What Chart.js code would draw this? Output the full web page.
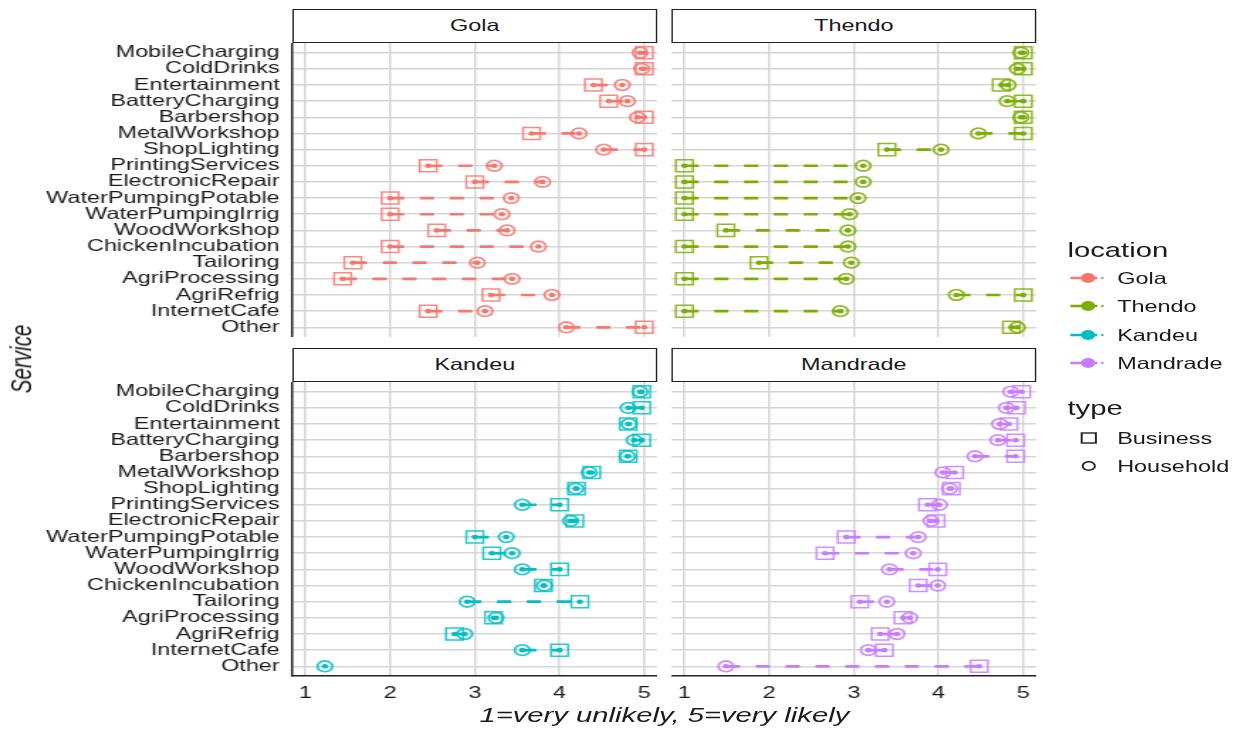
<!DOCTYPE html>
<html>
<head>
<meta charset="utf-8">
<script src="https://cdn.jsdelivr.net/npm/chart.js@4.4.0/dist/chart.umd.min.js"></script>
<style>
  html, body { margin: 0; padding: 0; background: #fff; overflow: hidden; }
  #stage {
    position: absolute; left: 0; top: 0; width: 870px; height: 729px;
    transform: scaleX(1.41954); transform-origin: 0 0;
    font-family: "Liberation Sans", Arial, Helvetica, sans-serif; color: #1a1a1a;
  }
  #stage canvas { position: absolute; }
  .strip {
    position: absolute; box-sizing: border-box; border: 1.5px solid #222;
    background: #fff; font-size: 16.5px; text-align: center;
  }
  .txt { position: absolute; white-space: nowrap; }
</style>
</head>
<body>
<div id="stage"></div>
<script>
// services shown on the y axis, top to bottom
const services = ['MobileCharging', 'ColdDrinks', 'Entertainment', 'BatteryCharging', 'Barbershop',
  'MetalWorkshop', 'ShopLighting', 'PrintingServices', 'ElectronicRepair', 'WaterPumpingPotable',
  'WaterPumpingIrrig', 'WoodWorkshop', 'ChickenIncubation', 'Tailoring', 'AgriProcessing',
  'AgriRefrig', 'InternetCafe', 'Other'];

const locations = ['Gola', 'Thendo', 'Kandeu', 'Mandrade'];
const types = ['Business', 'Household'];
const xTicks = [1, 2, 3, 4, 5];

// mean likelihood per service (1 = very unlikely, 5 = very likely)
const golaBusiness     = [5.00, 5.00, 4.40, 4.58, 5.00, 3.67, 5.00, 2.45, 3.00, 2.00, 2.00, 2.55, 2.00, 1.56, 1.44, 3.19, 2.45, 5.00];
const golaHousehold    = [4.95, 4.97, 4.74, 4.80, 4.92, 4.23, 4.52, 3.23, 3.80, 3.43, 3.32, 3.38, 3.75, 3.03, 3.44, 3.91, 3.12, 4.08];
const thendoBusiness   = [5.00, 5.00, 4.74, 5.00, 5.00, 5.00, 3.39, 1.00, 1.00, 1.00, 1.00, 1.49, 1.00, 1.88, 1.00, 5.00, 1.00, 4.86];
const thendoHousehold  = [4.97, 4.93, 4.82, 4.81, 4.97, 4.47, 4.03, 3.11, 3.11, 3.05, 2.95, 2.93, 2.93, 2.97, 2.91, 4.21, 2.84, 4.93];
const kandeuBusiness   = [4.97, 4.97, 4.81, 4.97, 4.81, 4.38, 4.20, 4.00, 4.18, 3.00, 3.20, 4.00, 3.81, 4.24, 3.22, 2.76, 4.00, null];
const kandeuHousehold  = [4.95, 4.81, 4.82, 4.88, 4.80, 4.35, 4.19, 3.56, 4.13, 3.37, 3.44, 3.56, 3.82, 2.91, 3.25, 2.88, 3.56, 1.23];
const mandradeBusiness = [4.98, 4.92, 4.83, 4.91, 4.91, 4.19, 4.15, 3.87, 3.97, 2.91, 2.66, 3.99, 3.76, 3.07, 3.58, 3.31, 3.36, 4.48];
const mandradeHousehold= [4.85, 4.80, 4.72, 4.70, 4.43, 4.05, 4.13, 4.01, 3.91, 3.76, 3.70, 3.42, 3.99, 3.39, 3.66, 3.51, 3.17, 1.49];

const colours = ['#F8766D', '#7CAE00', '#00BFC4', '#C77CFF'];

Chart.defaults.font.family = '"Liberation Sans", Arial, Helvetica, sans-serif';
Chart.defaults.color = '#1a1a1a';

const stage = document.getElementById('stage');
const GRID = '#d6d6d6';
const AXIS = '#222';
const X_AXIS_H = 45;
const STRIP_H = 34;

// panel boxes (before the horizontal stretch of the stage)
const colX = [[206, 463], [473, 730]];
const rowY = [[43, 337], [382, 676]];

function rgba(hex, a) {
  const n = parseInt(hex.slice(1), 16);
  return `rgba(${n >> 16},${(n >> 8) & 255},${n & 255},${a})`;
}

function addText(text, left, top, css) {
  const el = document.createElement('div');
  el.className = 'txt';
  el.textContent = text;
  el.style.left = left + 'px';
  el.style.top = top + 'px';
  Object.assign(el.style, css || {});
  stage.appendChild(el);
  return el;
}

function buildPanel(name, business, household, colour, col, row) {
  const [x0, x1] = colX[col];
  const [y0, y1] = rowY[row];
  const showY = col === 0;
  const showX = row === 1;

  // facet strip
  const strip = document.createElement('div');
  strip.className = 'strip';
  strip.textContent = name;
  strip.style.left = x0 + 'px';
  strip.style.top = (y0 - STRIP_H) + 'px';
  strip.style.width = (x1 - x0) + 'px';
  strip.style.height = STRIP_H + 'px';
  strip.style.lineHeight = (STRIP_H - 3) + 'px';
  stage.appendChild(strip);

  const canvas = document.createElement('canvas');
  const left = showY ? 0 : x0;
  const width = x1 - left;
  const height = (y1 - y0) + (showX ? X_AXIS_H : 0);
  canvas.width = width;
  canvas.height = height;
  canvas.style.left = left + 'px';
  canvas.style.top = y0 + 'px';
  canvas.style.width = width + 'px';
  canvas.style.height = height + 'px';
  stage.appendChild(canvas);

  const bizPts = [], hhPts = [], segments = [];
  services.forEach((s, i) => {
    const b = business[i], h = household[i];
    if (b != null) bizPts.push({ x: b, y: i });
    if (h != null) hhPts.push({ x: h, y: i });
    if (b != null && h != null) {
      segments.push([{ x: b, y: i }, { x: h, y: i }].sort((p, q) => p.x - q.x));
    }
  });

  const datasets = [
    { data: bizPts.concat(hhPts), pointStyle: 'circle', pointRadius: 2.3,
      backgroundColor: colour, borderWidth: 0 },
    { data: hhPts, pointStyle: 'circle', pointRadius: 5.3,
      borderColor: rgba(colour, 0.85), backgroundColor: 'rgba(0,0,0,0)', borderWidth: 1.8 },
    { data: bizPts, pointStyle: 'rect', pointRadius: 8.5,
      borderColor: rgba(colour, 0.85), backgroundColor: 'rgba(0,0,0,0)', borderWidth: 1.5 }
  ].concat(segments.map(seg => ({
    data: seg, showLine: true, pointRadius: 0,
    borderColor: colour, borderWidth: 2.7, borderDash: [10, 11]
  })));

  new Chart(canvas, {
    type: 'scatter',
    data: { datasets },
    options: {
      responsive: false,
      animation: false,
      events: [],
      layout: { padding: 0, autoPadding: false },
      plugins: { legend: { display: false }, tooltip: { enabled: false } },
      scales: {
        x: {
          type: 'linear', min: 0.847, max: 5.153,
          afterBuildTicks: s => { s.ticks = xTicks.map(v => ({ value: v })); },
          afterFit: s => {
            s.height = showX ? X_AXIS_H : 0;
            s.paddingLeft = 0; s.paddingRight = 0;
          },
          grid: { color: GRID, lineWidth: 1.5, drawTicks: false },
          border: { display: showX, color: AXIS, width: 1.5 },
          ticks: { display: showX, padding: 8, font: { size: 16.5 }, color: '#1a1a1a',
                   maxRotation: 0, callback: v => String(v) }
        },
        y: {
          type: 'linear', reverse: true, min: -0.6, max: services.length - 0.4,
          afterBuildTicks: s => { s.ticks = services.map((_, i) => ({ value: i })); },
          afterFit: s => {
            s.width = showY ? x0 : 0;
            s.paddingTop = 0; s.paddingBottom = 0;
          },
          grid: { color: GRID, lineWidth: 1.5, drawTicks: false },
          border: { display: showY, color: AXIS, width: 1.5 },
          ticks: { display: showY, padding: 9, font: { size: 16.5 }, color: '#1a1a1a',
                   autoSkip: false, callback: v => services[v] }
        }
      }
    }
  });
}

buildPanel(locations[0], golaBusiness, golaHousehold, colours[0], 0, 0);
buildPanel(locations[1], thendoBusiness, thendoHousehold, colours[1], 1, 0);
buildPanel(locations[2], kandeuBusiness, kandeuHousehold, colours[2], 0, 1);
buildPanel(locations[3], mandradeBusiness, mandradeHousehold, colours[3], 1, 1);

// axis titles
const yTitle = addText('Service', 0, 0, { fontSize: '20.6px', fontStyle: 'italic' });
yTitle.style.left = '14.5px';
yTitle.style.top = '359px';
yTitle.style.transform = 'translate(-50%, -50%) rotate(-90deg)';

const xTitle = addText('1=very unlikely, 5=very likely', 468, 715, { fontSize: '20.6px', fontStyle: 'italic' });
xTitle.style.transform = 'translate(-50%, -50%)';

// legend
const LEG_X = 752, LAB_X = 787;
const locTitle = addText('location', LEG_X, 250, { fontSize: '20.6px' });
locTitle.style.transform = 'translateY(-50%)';
const locY = [277.5, 306, 334.5, 363];
locations.forEach((loc, i) => {
  const svg = `<svg width="30" height="14" style="position:absolute;left:${LEG_X}px;top:${locY[i] - 7}px">
    <line x1="2" y1="7" x2="21" y2="7" stroke="${colours[i]}" stroke-width="2.6"/>
    <circle cx="14.5" cy="7" r="5" fill="${colours[i]}"/>
    <circle cx="24.5" cy="7" r="1.1" fill="${colours[i]}"/>
  </svg>`;
  stage.insertAdjacentHTML('beforeend', svg);
  const t = addText(loc, LAB_X, locY[i], { fontSize: '16.5px' });
  t.style.transform = 'translateY(-50%)';
});

const typeTitle = addText('type', LEG_X, 408, { fontSize: '20.6px' });
typeTitle.style.transform = 'translateY(-50%)';
const typeY = [437.5, 466];
types.forEach((tp, i) => {
  const shape = i === 0
    ? `<rect x="10" y="2" width="10" height="10" fill="none" stroke="#222" stroke-width="1.4"/>`
    : `<circle cx="15" cy="7" r="4.3" fill="none" stroke="#222" stroke-width="1.4"/>`;
  stage.insertAdjacentHTML('beforeend',
    `<svg width="30" height="14" style="position:absolute;left:${LEG_X}px;top:${typeY[i] - 7}px">${shape}</svg>`);
  const t = addText(tp, LAB_X, typeY[i], { fontSize: '16.5px' });
  t.style.transform = 'translateY(-50%)';
});
</script>
</body>
</html>
